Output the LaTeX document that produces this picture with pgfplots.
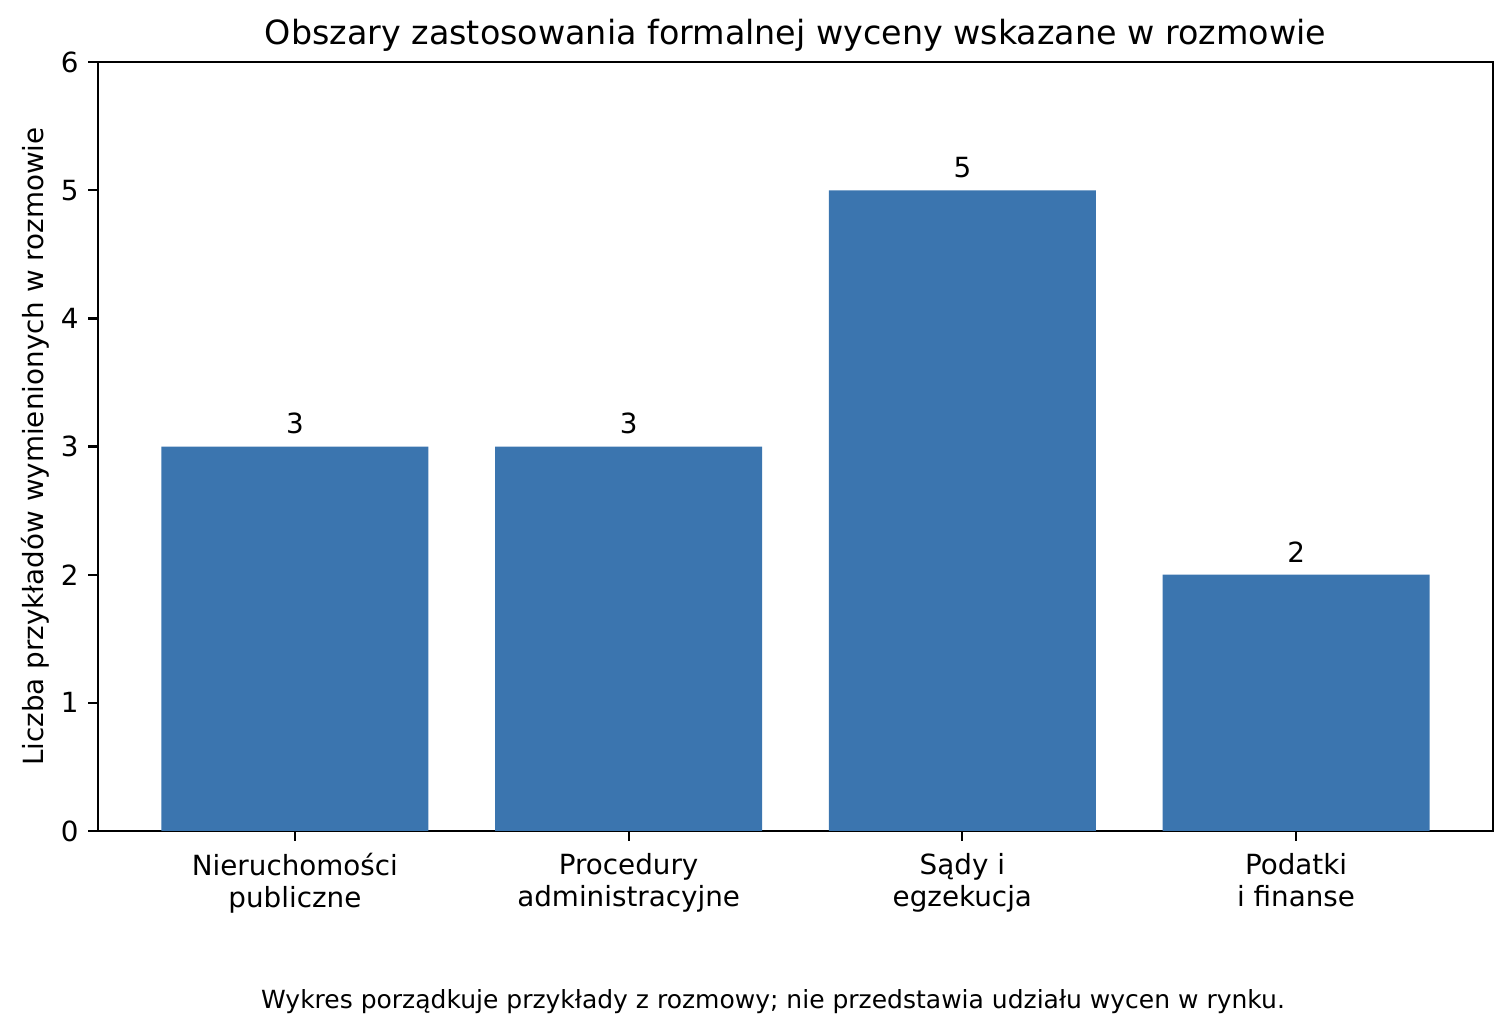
\documentclass[border=0pt]{standalone}
\usepackage{fontspec}
\setmainfont{DejaVu Sans}
\usepackage{pgfplots}
\pgfplotsset{compat=1.18}
\definecolor{barblue}{RGB}{59,117,175}

\begin{document}
\begin{tikzpicture}
  % fix the page to the reference proportions (1 px = 0.36 pt)
  \path[use as bounding box] (-35.28pt,-72.72pt) rectangle (509.04pt,299.16pt);
  \begin{axis}[
      at={(0,0)}, anchor=south west,
      scale only axis,
      width=502.2pt, height=276.8pt,
      xmin=-0.59, xmax=3.59,
      ymin=0, ymax=6,
      ytick={0,1,2,3,4,5,6},
      xtick={0,1,2,3},
      xticklabels={{Nieruchomości\\publiczne},{Procedury\\administracyjne},{Sądy i\\egzekucja},{Podatki\\i finanse}},
      xticklabel style={align=center, yshift=-1pt, font=\fontsize{10}{11.6}\selectfont},
      yticklabel style={font=\fontsize{10}{12}\selectfont},
      /pgf/number format/assume math mode=true,
      tick align=outside,
      xtick pos=bottom, ytick pos=left,
      major tick length=3.5pt,
      every tick/.style={black, line width=0.8pt},
      axis line style={line width=0.8pt},
      ylabel={Liczba przykładów wymienionych w rozmowie},
      every axis y label/.style={at={(axis description cs:-0.0452,0.5)}, rotate=90, anchor=center, font=\fontsize{10}{12}\selectfont},
      title={Obszary zastosowania formalnej wyceny wskazane w rozmowie},
      every axis title/.style={at={(axis description cs:0.5,1)}, anchor=center, yshift=9.7pt, font=\fontsize{12}{14}\selectfont},
      ybar, bar width=0.8,
      nodes near coords,
      every node near coord/.style={anchor=south, inner sep=0pt, yshift=4.2pt, black, font=\fontsize{10}{12}\selectfont},
    ]
    \addplot[fill=barblue, draw=none] coordinates {(0,3) (1,3) (2,5) (3,2)};
  \end{axis}
  \node[font=\fontsize{9}{10.8}\selectfont] at (243pt,-61.5pt) {Wykres porządkuje przykłady z rozmowy; nie przedstawia udziału wycen w rynku.};
\end{tikzpicture}
\end{document}
